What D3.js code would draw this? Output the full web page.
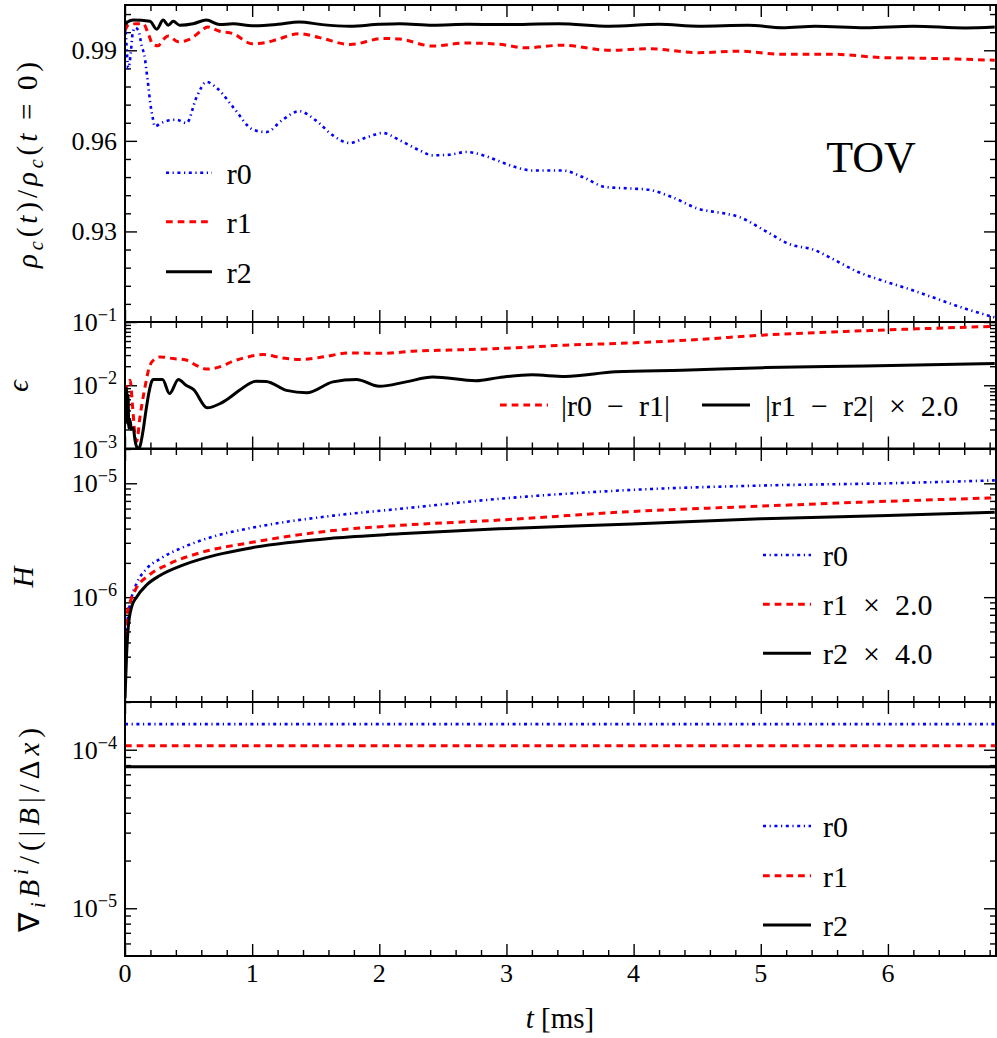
<!DOCTYPE html>
<html><head><meta charset="utf-8">
<script src="https://cdn.jsdelivr.net/npm/d3@7"></script>
<style>
body{margin:0;background:#fff;}
svg{display:block;background:#fff;}
text{font-family:"Liberation Serif","Times New Roman",serif;fill:#000;}
</style></head><body>
<svg id="c" width="997" height="1038"></svg>
<script>
// ---------- data (t in ms) ----------
const rhoR0 = [[0,1.0],[0.01,0.993],[0.026,0.984],[0.045,0.989],[0.06,0.9955],[0.08,0.9975],[0.105,0.9966],[0.13,0.9917],[0.157,0.9872],[0.17,0.9828],[0.183,0.9784],[0.196,0.9734],[0.217,0.9679],[0.235,0.9648],[0.28,0.9658],[0.327,0.9666],[0.405,0.967],[0.484,0.9659],[0.563,0.9745],[0.641,0.9795],[0.72,0.9776],[0.85,0.9712],[1.007,0.9637],[1.11,0.9629],[1.24,0.967],[1.37,0.9698],[1.5,0.9668],[1.635,0.9618],[1.766,0.9593],[1.897,0.9611],[2.028,0.9626],[2.16,0.9602],[2.315,0.9569],[2.42,0.9552],[2.55,0.9554],[2.68,0.9563],[2.84,0.9549],[2.94,0.9533],[3.07,0.9513],[3.2,0.9502],[3.44,0.9502],[3.6,0.948],[3.78,0.9447],[3.99,0.9442],[4.12,0.9438],[4.3,0.9414],[4.51,0.9375],[4.72,0.9359],[4.83,0.9348],[5.03,0.9303],[5.22,0.9259],[5.43,0.9237],[5.56,0.921],[5.77,0.9165],[5.95,0.9138],[6.16,0.911],[6.35,0.9082],[6.61,0.9044],[6.84,0.9015]];
const rhoR1 = [[0,0.9965],[0.03,0.9985],[0.09,0.9988],[0.144,0.9988],[0.183,0.9955],[0.22,0.9919],[0.26,0.9915],[0.3,0.9935],[0.34,0.9947],[0.42,0.9928],[0.51,0.9937],[0.59,0.9961],[0.65,0.9977],[0.745,0.9963],[0.85,0.9955],[1.0,0.9922],[1.1,0.9925],[1.19,0.9935],[1.37,0.9955],[1.53,0.9942],[1.77,0.9919],[2.03,0.9939],[2.16,0.9937],[2.42,0.9914],[2.68,0.9924],[2.94,0.992],[3.15,0.9908],[3.44,0.9917],[3.81,0.99],[4.12,0.9905],[4.51,0.9892],[4.83,0.9897],[5.17,0.9887],[5.56,0.9887],[5.95,0.9876],[6.35,0.9873],[6.84,0.9867]];
const rhoR2 = [[0,0.9985],[0.02,0.9994],[0.065,1.0],[0.196,0.9996],[0.25,0.997],[0.3,1.0],[0.34,0.9983],[0.38,0.9996],[0.43,0.9983],[0.536,0.9988],[0.64,1.0],[0.745,0.9985],[0.85,0.9988],[1.0,0.9981],[1.2,0.9986],[1.37,0.9994],[1.55,0.9985],[1.77,0.998],[2.0,0.9986],[2.16,0.9988],[2.42,0.9983],[2.7,0.9986],[2.94,0.9985],[3.41,0.9988],[3.81,0.998],[4.2,0.9986],[4.51,0.998],[4.9,0.9983],[5.17,0.9975],[5.43,0.998],[5.82,0.9975],[6.2,0.998],[6.61,0.9974],[6.84,0.9977]];

const epsR01 = [[0,0.0079],[0.02,0.0105],[0.04,0.012],[0.06,0.0045],[0.078,0.0017],[0.092,0.0013],[0.118,0.0032],[0.157,0.0093],[0.196,0.0207],[0.235,0.026],[0.275,0.028],[0.38,0.0264],[0.48,0.025],[0.56,0.0207],[0.646,0.018],[0.745,0.0195],[0.85,0.024],[0.95,0.0275],[1.085,0.0305],[1.24,0.027],[1.37,0.0255],[1.53,0.0275],[1.77,0.0324],[2.03,0.032],[2.29,0.0348],[2.55,0.036],[2.94,0.038],[3.46,0.043],[3.99,0.0467],[4.51,0.053],[5.01,0.062],[5.56,0.0695],[6.08,0.076],[6.84,0.0855]];
const epsR12 = [[0,0.0083],[0.006,0.004],[0.012,0.009],[0.018,0.0025],[0.024,0.007],[0.03,0.0021],[0.04,0.0028],[0.05,0.002],[0.065,0.0021],[0.08,0.0013],[0.1,0.001],[0.115,0.00105],[0.14,0.0018],[0.165,0.004],[0.19,0.008],[0.21,0.0115],[0.22,0.0123],[0.295,0.0123],[0.35,0.0074],[0.42,0.0123],[0.48,0.01],[0.54,0.0085],[0.646,0.0044],[0.745,0.0051],[0.824,0.0064],[0.9,0.0083],[1.03,0.0116],[1.11,0.0115],[1.27,0.0083],[1.43,0.0076],[1.635,0.0113],[1.82,0.0123],[2.0,0.0096],[2.21,0.0113],[2.42,0.0135],[2.76,0.0118],[2.94,0.0132],[3.2,0.0146],[3.46,0.0138],[3.86,0.0163],[4.38,0.0173],[5.04,0.019],[5.82,0.0202],[6.84,0.022]];

const hR0 = [[0.003,4.0e-7],[0.026,7.1e-7],[0.052,1.0e-6],[0.09,1.31e-6],[0.17,1.78e-6],[0.275,2.17e-6],[0.46,2.75e-6],[0.72,3.47e-6],[1.0,4.07e-6],[1.64,5.2e-6],[2.16,5.96e-6],[2.94,7.3e-6],[3.99,8.75e-6],[5.0,9.55e-6],[6.0,1.0e-5],[6.84,1.06e-5]];
const hR1 = [[0.003,3.5e-7],[0.013,6.7e-7],[0.04,9.0e-7],[0.08,1.15e-6],[0.196,1.58e-6],[0.33,1.92e-6],[0.59,2.45e-6],[1.0,3.03e-6],[1.64,3.85e-6],[2.16,4.27e-6],[2.94,4.75e-6],[3.99,5.65e-6],[5.0,6.3e-6],[6.0,6.95e-6],[6.84,7.45e-6]];
const hR2 = [[0,1.3e-7],[0.013,3.2e-7],[0.026,5.5e-7],[0.052,8.2e-7],[0.091,1.0e-6],[0.17,1.28e-6],[0.275,1.55e-6],[0.46,1.92e-6],[0.72,2.35e-6],[1.0,2.72e-6],[1.64,3.3e-6],[2.16,3.6e-6],[2.94,3.98e-6],[3.99,4.4e-6],[5.0,4.87e-6],[6.0,5.2e-6],[6.84,5.57e-6]];

const divR0 = [[0,1.45e-4],[6.85,1.45e-4]];
const divR1 = [[0,1.06e-4],[6.85,1.06e-4]];
const divR2 = [[0,7.82e-5],[6.85,7.82e-5]];

const xTicks = [0,1,2,3,4,5,6];
const rhoTicks = [0.93,0.96,0.99];
const epsTicks = [1e-3,1e-2,1e-1];
const hTicks = [1e-6,1e-5];
const divTicks = [1e-5,1e-4];

// ---------- layout ----------
const X0=125, X1=996;
const svg=d3.select('#c');
const x=d3.scaleLinear().domain([0,6.85]).range([X0,X1]);

const STY={
  r0:{stroke:'#0000ff',dash:'3 3.6 1.2 3.6',w:2.6},
  r1:{stroke:'#ff0000',dash:'6.7 5',w:3},
  r2:{stroke:'#000000',dash:null,w:3}
};

function logMinors(domain){
  const out=[];
  const a=Math.floor(Math.log10(domain[0])), b=Math.ceil(Math.log10(domain[1]));
  for(let e=a;e<=b;e++) for(let m=2;m<=9;m++){const v=m*Math.pow(10,e); if(v>=domain[0]&&v<=domain[1]) out.push(v);}
  return out;
}

function segText(sel, segs, fs){
  segs.forEach(s=>{
    const o=s[1]||{};
    const ts=sel.append('tspan').text(s[0]);
    if(o.it) ts.attr('font-style','italic');
    if(o.sub){ts.attr('font-size',fs*0.7).attr('dy',fs*0.22);}
    if(o.sup){ts.attr('font-size',fs*0.7).attr('dy',-fs*0.38);}
    if(o.back!==undefined) ts.attr('dy',o.back);
  });
}

function drawPanel(p){
  const g=svg.append('g');
  const y=p.y;
  const id='clip'+p.name;
  svg.append('clipPath').attr('id',id).append('rect').attr('x',X0).attr('y',p.top).attr('width',X1-X0).attr('height',p.bottom-p.top);
  const tk=(sel)=>{sel.select('.domain').remove(); sel.selectAll('.tick line').attr('stroke','#000').attr('stroke-width',1.4);};
  const xMin=d3.range(0,6.85,0.2).filter(v=>Math.abs(v-Math.round(v))>1e-6);
  [['axisTop',p.top],['axisBottom',p.bottom]].forEach(([f,yy])=>{
    g.append('g').attr('transform',`translate(0,${yy})`).call(d3[f](x).tickValues(xTicks).tickSizeInner(-12).tickSizeOuter(0).tickFormat('')).call(tk);
    g.append('g').attr('transform',`translate(0,${yy})`).call(d3[f](x).tickValues(xMin).tickSizeInner(-6).tickSizeOuter(0).tickFormat('')).call(tk);
  });
  [['axisLeft',X0],['axisRight',X1]].forEach(([f,xx])=>{
    g.append('g').attr('transform',`translate(${xx},0)`).call(d3[f](y).tickValues(p.majors).tickSizeInner(-12).tickSizeOuter(0).tickFormat('')).call(tk);
    g.append('g').attr('transform',`translate(${xx},0)`).call(d3[f](y).tickValues(p.minors).tickSizeInner(-6).tickSizeOuter(0).tickFormat('')).call(tk);
  });
  p.majors.forEach(v=>{
    const t=g.append('text').attr('x',X0-8).attr('y',y(v)+9).attr('text-anchor','end').attr('font-size',26);
    if(p.log){
      const e=Math.round(Math.log10(v));
      segText(t,[['10'],['\u2212'+Math.abs(e),{sup:true}]],26);
    } else t.text(d3.format('.2f')(v));
  });
  const line=d3.line().x(d=>x(d[0])).y(d=>y(d[1])).curve(d3.curveMonotoneX);
  const sg=svg.append('g').attr('clip-path',`url(#${id})`);
  p.series.forEach(([data,st])=>{
    const s=STY[st];
    sg.append('path').attr('d',line(data)).attr('fill','none').attr('stroke',s.stroke).attr('stroke-width',s.w)
      .attr('stroke-dasharray',s.dash).attr('stroke-linejoin','round');
  });
  svg.append('rect').attr('x',X0).attr('y',p.top).attr('width',X1-X0).attr('height',p.bottom-p.top)
    .attr('fill','none').attr('stroke','#000').attr('stroke-width',2);
  return g;
}

const yRho=d3.scaleLinear().domain([0.9,1.005]).range([322,5]);
const yEps=d3.scaleLog().domain([1e-3,1e-1]).range([448.5,322]);
const yH=d3.scaleLog().domain([1.2e-7,2e-5]).range([702,449]);
const yDiv=d3.scaleLog().domain([5e-6,2e-4]).range([956,702]);

const rhoMinor=d3.range(-15,3).map(k=>+(0.99+k*0.006).toFixed(4)).filter(v=>!rhoTicks.some(m=>Math.abs(m-v)<1e-6));

drawPanel({name:'rho',top:5,bottom:322,y:yRho,majors:rhoTicks,minors:rhoMinor,log:false,series:[[rhoR0,'r0'],[rhoR1,'r1'],[rhoR2,'r2']]});
drawPanel({name:'eps',top:322,bottom:448.5,y:yEps,majors:epsTicks,minors:logMinors(yEps.domain()),log:true,series:[[epsR01,'r1'],[epsR12,'r2']]});
drawPanel({name:'H',top:449,bottom:702,y:yH,majors:hTicks,minors:logMinors(yH.domain()),log:true,series:[[hR0,'r0'],[hR1,'r1'],[hR2,'r2']]});
drawPanel({name:'div',top:702,bottom:956,y:yDiv,majors:divTicks,minors:logMinors(yDiv.domain()),log:true,series:[[divR0,'r0'],[divR1,'r1'],[divR2,'r2']]});

xTicks.forEach(v=>{
  svg.append('text').attr('x',x(v)).attr('y',982).attr('text-anchor','middle').attr('font-size',26).text(v);
});
const xl=svg.append('text').attr('x',560).attr('y',1028).attr('text-anchor','middle').attr('font-size',29);
segText(xl,[['t',{it:true}],[' [ms]']],29);

function ylab(cx,cy,segs,fs,len){
  const t=svg.append('text').attr('transform',`translate(${cx},${cy}) rotate(-90)`).attr('text-anchor','middle').attr('font-size',fs);
  if(len) t.attr('textLength',len).attr('lengthAdjust','spacing');
  segText(t,segs,fs);
}
ylab(37,165,[['ρ',{it:true}],['c',{it:true,sub:true}],['(',{back:-29*0.22}],['t',{it:true}],[')/'],['ρ',{it:true}],['c',{it:true,sub:true}],['(',{back:-29*0.22}],['t',{it:true}],['\u2009=\u20090)']],29,206);
ylab(28,386,[['ϵ',{it:true}]],29);
ylab(33,577,[['H',{it:true}]],29);
ylab(39,830,[['∇'],['i',{it:true,sub:true}],['B',{it:true,back:-29*0.22}],['i',{it:true,sup:true}],['/(|',{back:29*0.38}],['B',{it:true}],['|/Δ'],['x',{it:true}],[')']],29,204);

svg.append('text').attr('x',871).attr('y',172).attr('text-anchor','middle').attr('font-size',44).text('TOV');

function legRow(x1,x2,yy,st,segs,tx,fs){
  const s=STY[st];
  svg.append('line').attr('x1',x1).attr('x2',x2).attr('y1',yy).attr('y2',yy).attr('stroke',s.stroke).attr('stroke-width',s.w).attr('stroke-dasharray',s.dash);
  const t=svg.append('text').attr('x',tx).attr('y',yy+11).attr('font-size',fs||30);
  segText(t,segs,fs||30);
}
legRow(166,212,172.7,'r0',[['r0']],226.7);
legRow(166,212,221.7,'r1',[['r1']],226.7);
legRow(166,212,271.7,'r2',[['r2']],226.7);

legRow(500,548,405,'r1',[['|r0\u2002\u2212\u2002r1|']],561);
legRow(702,750,405,'r2',[['|r1\u2002\u2212\u2002r2|\u2002×\u20022.0']],765);

legRow(763,811,555,'r0',[['r0']],823);
legRow(763,811,604.3,'r1',[['r1\u2002×\u20022.0']],823);
legRow(763,811,653.3,'r2',[['r2\u2002×\u20024.0']],823);

legRow(763,811,826,'r0',[['r0']],823);
legRow(763,811,875.7,'r1',[['r1']],823);
legRow(763,811,925,'r2',[['r2']],823);
</script>
</body></html>
